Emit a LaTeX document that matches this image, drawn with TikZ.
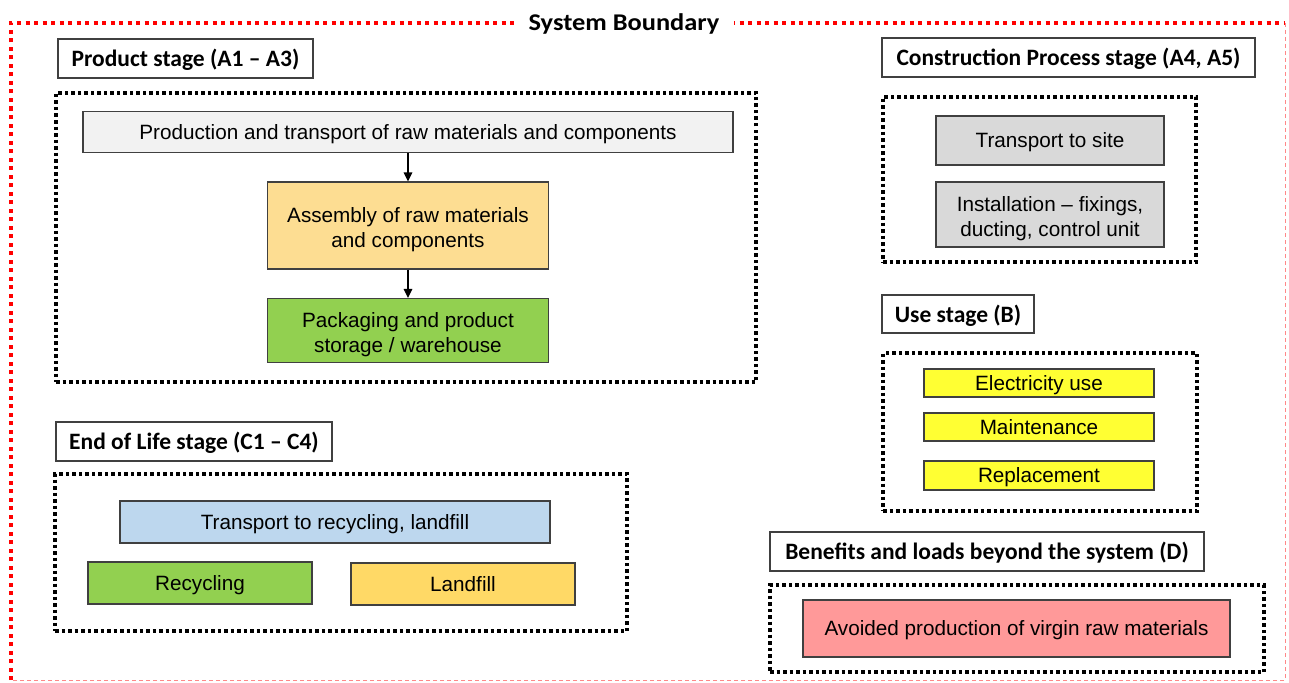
\documentclass[tikz,border=0pt]{standalone}
\usepackage{fontspec}
\setmainfont{Liberation Sans}
\newfontfamily\titlefont[Ligatures=TeX]{Carlito}
\usetikzlibrary{arrows.meta}
\newcommand\mystrut{\rule[-0.212em]{0pt}{1.117em}}
\newcommand\mystrutb{\rule[-0.212em]{0pt}{1.3em}}
\newcommand\tstrut{\rule[-0.25em]{0pt}{1.2em}}
\begin{document}
\begin{tikzpicture}[x=1pt,y=-1pt,
  box/.style={draw=black!75,line width=1.2pt,inner sep=0pt,align=center,font=\fontsize{20.7}{25}\selectfont},
  ttl/.style={draw=black!75,line width=1.3pt,fill=white,inner sep=0pt,font=\titlefont\bfseries\fontsize{23.5}{28}\selectfont},
  frame/.style={draw=black,line width=3.3pt,dash pattern=on 3.5pt off 3pt,inner sep=0pt},
  arr/.style={-{Triangle[length=9pt,width=8.5pt]},line width=1.3pt}]
\useasboundingbox (0,0) rectangle (1289,682);
\fill[white] (0,0) rectangle (1289,682);
% system boundary
\coordinate (sbtl) at (11,23);
\coordinate (sbtr) at (1285,23);
\coordinate (sbbl) at (11,680);
\coordinate (sbbr) at (1285,680);
\draw[red!70!pink!60,line width=0.8pt,dash pattern=on 4pt off 3pt] (sbtr) -- (sbbr) -- (sbbl);
\draw[red,line width=3.5pt,dash pattern=on 4pt off 4.5pt] (sbbl) -- (sbtl) -- (sbtr);
\node[fill=white,inner xsep=15pt,inner ysep=2pt,font=\titlefont\bfseries\fontsize{24}{28}\selectfont] (sb) at (624,22) {\tstrut\scalebox{1.1}[1]{System Boundary}};
% product stage
\node[frame,minimum width=700pt,minimum height=289pt] (pframe) at (406,237.5) {};
\node[ttl,minimum width=255pt,minimum height=39pt] (ptitle) at (185.5,58.5) {\tstrut Product stage (A1 -- A3)};
\node[box,fill=black!5,minimum width=650pt,minimum height=41pt] (b1) at (408,132) {\mystrut Production and transport of raw materials and components};
\node[box,fill=yellow!40!orange!40,minimum width=281pt,minimum height=87pt] (b2) at (408,225.5) {\mystrutb Assembly of raw materials\\\mystrut and components};
\node[box,fill={rgb,255:red,146;green,208;blue,80},minimum width=281pt,minimum height=64pt] (b3) at (408,330.5) {\mystrutb Packaging and product\\\mystrut storage / warehouse};
\draw[arr] (b1.south) -- (b2.north);
\draw[arr] (b2.south) -- (b3.north);
% construction
\node[frame,minimum width=313pt,minimum height=165pt] (cframe) at (1039.5,179.5) {};
\node[ttl,minimum width=373pt,minimum height=39pt] (ctitle) at (1068.5,57.5) {\tstrut Construction Process stage (A4, A5)};
\node[box,fill=black!15,minimum width=228pt,minimum height=49pt] (c1) at (1050,140.5) {\mystrut Transport to site};
\node[box,fill=black!15,minimum width=228pt,minimum height=65pt] (c2) at (1050,214.5) {\mystrutb Installation -- fixings,\\\mystrut ducting, control unit};
% use stage
\node[frame,minimum width=314pt,minimum height=158pt] (uframe) at (1040,432) {};
\node[ttl,minimum width=152pt,minimum height=38pt] (utitle) at (958,314) {\tstrut Use stage (B)};
\node[box,fill={rgb,255:red,255;green,255;blue,51},minimum width=230pt,minimum height=28pt] (u1) at (1039,383) {\mystrut Electricity use};
\node[box,fill={rgb,255:red,255;green,255;blue,51},minimum width=230pt,minimum height=28pt] (u2) at (1039,427) {\mystrut Maintenance};
\node[box,fill={rgb,255:red,255;green,255;blue,51},minimum width=230pt,minimum height=29pt] (u3) at (1039,475.5) {\mystrut Replacement};
% benefits
\node[frame,minimum width=494pt,minimum height=87pt] (bframe) at (1017,628.5) {};
\node[ttl,minimum width=434pt,minimum height=39pt] (btitle) at (987,551.5) {\tstrut Benefits and loads beyond the system (D)};
\node[box,fill={rgb,255:red,255;green,153;blue,153},minimum width=427pt,minimum height=57pt] (bav) at (1016.5,628.5) {\mystrut Avoided production of virgin raw materials};
% end of life
\node[frame,minimum width=572pt,minimum height=157pt] (eframe) at (341,552.5) {};
\node[ttl,minimum width=276pt,minimum height=39pt] (etitle) at (194,441.5) {\tstrut End of Life stage (C1 -- C4)};
\node[box,fill={rgb,255:red,189;green,215;blue,238},minimum width=430pt,minimum height=42pt] (e1) at (335,522) {\mystrut Transport to recycling, landfill};
\node[box,fill={rgb,255:red,146;green,208;blue,80},minimum width=224pt,minimum height=42pt] (e2) at (200,583) {\mystrut Recycling};
\node[box,fill={rgb,255:red,255;green,217;blue,102},minimum width=224pt,minimum height=42pt] (e3) at (463,584) {\mystrut Landfill};
\end{tikzpicture}
\end{document}
